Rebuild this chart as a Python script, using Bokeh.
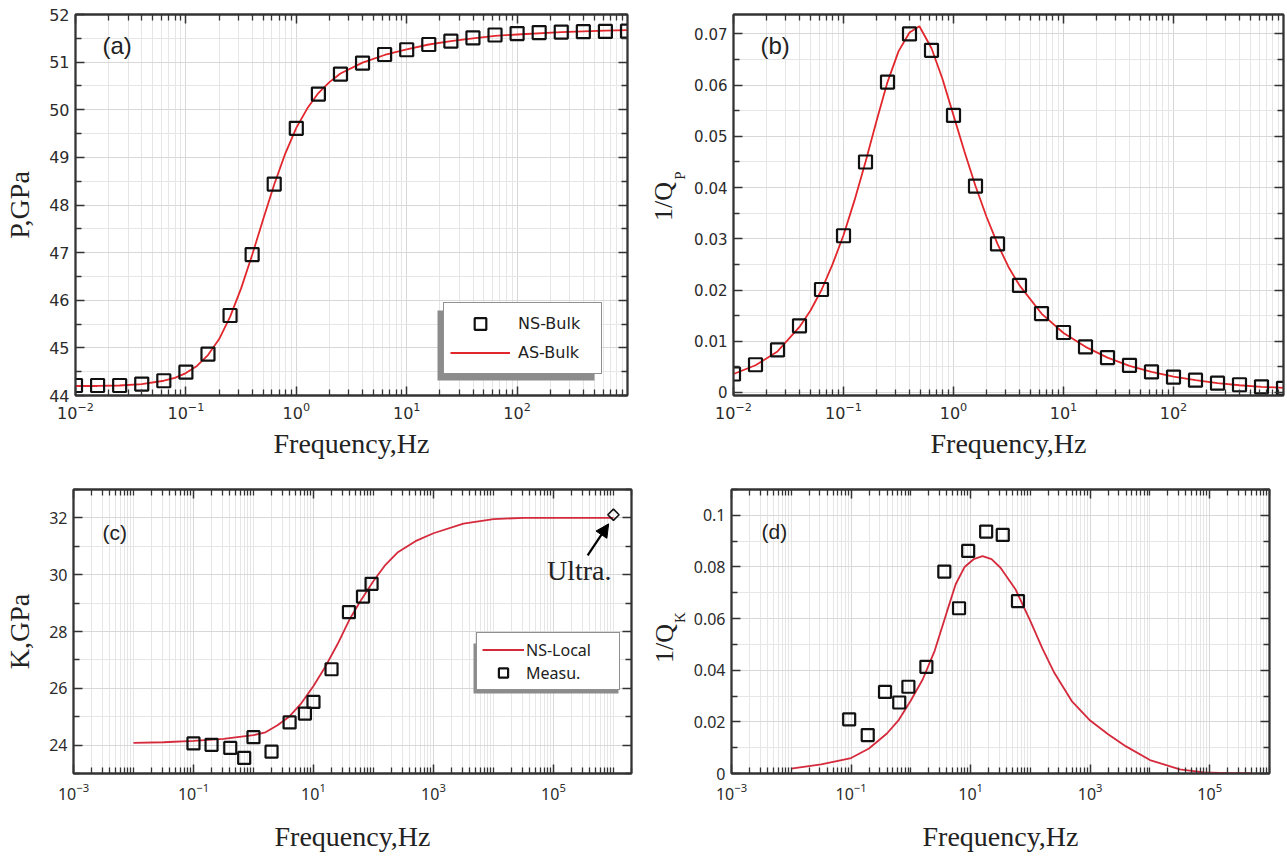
import numpy as np
from bokeh.plotting import figure
from bokeh.models import (LogAxis, LinearAxis, FixedTicker, Range1d, Label,
                          Legend, LegendItem, BoxAnnotation, Arrow, NormalHead,
                          CustomJSTickFormatter)
from bokeh.layouts import column, row
from bokeh.embed import file_html
from bokeh.resources import INLINE

# ---------------- data ----------------
# (a)/(b): log10 of frequency for the NS-Bulk squares
ns_bulk_logf = [-2.0, -1.8, -1.6, -1.4, -1.2, -1.0, -0.8, -0.6, -0.4, -0.2,
                0.0, 0.2, 0.4, 0.6, 0.8, 1.0, 1.2, 1.4, 1.6, 1.8,
                2.0, 2.2, 2.4, 2.6, 2.8, 3.0]
ns_bulk_P = [44.21, 44.21, 44.21, 44.24, 44.31, 44.49, 44.87, 45.68, 46.96, 48.44,
             49.61, 50.33, 50.75, 50.98, 51.16, 51.26, 51.37, 51.44, 51.51, 51.57,
             51.60, 51.62, 51.63, 51.64, 51.645, 51.65]
ns_bulk_invQ = [0.0036, 0.0054, 0.0083, 0.0130, 0.0201, 0.0306, 0.0450, 0.0606, 0.0700, 0.0668,
                0.0541, 0.0403, 0.0290, 0.0209, 0.0154, 0.0117, 0.0089, 0.0068, 0.0053, 0.0040,
                0.0030, 0.0024, 0.0018, 0.0015, 0.0011, 0.0008]

as_bulk_P_logf = [-2.0, -1.8, -1.6, -1.4, -1.2, -1.1, -1.0, -0.9, -0.8, -0.7, -0.6, -0.5,
                  -0.4, -0.3, -0.2, -0.1, 0.0, 0.1, 0.2, 0.3, 0.4, 0.6, 0.8, 1.0,
                  1.2, 1.4, 1.6, 1.8, 2.0, 2.4, 2.8, 3.0]
as_bulk_P = [44.20, 44.20, 44.21, 44.24, 44.31, 44.37, 44.47, 44.62, 44.85, 45.18, 45.65, 46.25,
             46.95, 47.70, 48.43, 49.08, 49.62, 50.03, 50.35, 50.58, 50.76, 50.99, 51.15, 51.27,
             51.37, 51.44, 51.50, 51.55, 51.58, 51.63, 51.66, 51.67]

as_bulk_invQ_logf = [-2.0, -1.8, -1.6, -1.4, -1.3, -1.2, -1.1, -1.0, -0.9, -0.8, -0.7, -0.6,
                     -0.5, -0.4, -0.31, -0.2, -0.1, 0.0, 0.1, 0.2, 0.3, 0.4, 0.5, 0.6,
                     0.8, 1.0, 1.2, 1.4, 1.6, 1.8, 2.0, 2.2, 2.4, 2.6, 2.8, 3.0]
as_bulk_invQ = [0.0036, 0.0053, 0.0080, 0.0128, 0.0160, 0.0200, 0.0250, 0.0307, 0.0375, 0.0450, 0.0530, 0.0606,
                0.0666, 0.0703, 0.0715, 0.0672, 0.0612, 0.0541, 0.0470, 0.0403, 0.0343, 0.0290, 0.0245, 0.0209,
                0.0154, 0.0116, 0.0089, 0.0068, 0.0052, 0.0040, 0.0031, 0.0024, 0.0018, 0.0014, 0.0011, 0.0009]

# (c): measured bulk modulus and NS-Local model
measu_K_f = [0.1, 0.2, 0.41, 0.7, 1.0, 2.0, 4.0, 7.2, 10.0, 20.0, 39.0, 67.0, 93.0]
measu_K = [24.06, 24.01, 23.90, 23.55, 24.28, 23.77, 24.80, 25.11, 25.52, 26.67, 28.68, 29.23, 29.68]
ultra_f = [1.0e6]
ultra_K = [32.11]
ns_local_K_logf = [-2.0, -1.5, -1.0, -0.5, 0.0, 0.2, 0.4, 0.6, 0.8, 1.0, 1.2, 1.4, 1.6, 1.8,
                   2.0, 2.2, 2.4, 2.7, 3.0, 3.5, 4.0, 4.5, 5.0, 6.0]
ns_local_K = [24.08, 24.10, 24.15, 24.22, 24.35, 24.45, 24.70, 25.01, 25.48, 26.08, 26.77, 27.55, 28.42, 29.13,
              29.78, 30.35, 30.78, 31.18, 31.46, 31.80, 31.96, 32.0, 32.0, 32.0]

# (d): measured 1/Q_K and NS-Local model
measu_Q_f = [0.093, 0.19, 0.37, 0.64, 0.91, 1.82, 3.63, 6.4, 9.1, 18.2, 34.5, 62.0]
measu_Q = [0.0210, 0.0149, 0.0316, 0.0275, 0.0336, 0.0413, 0.0782, 0.0640, 0.0862, 0.0937, 0.0924, 0.0668]
ns_local_Q_logf = [-2.0, -1.5, -1.0, -0.7, -0.4, -0.2, 0.0, 0.2, 0.4, 0.6, 0.75, 0.9, 1.05, 1.2,
                   1.35, 1.5, 1.75, 2.0, 2.2, 2.4, 2.7, 3.0, 3.3, 3.6, 4.0, 4.5, 4.9, 5.3, 5.7]
ns_local_Q = [0.0019, 0.0035, 0.0060, 0.0097, 0.0155, 0.0208, 0.0283, 0.0365, 0.0476, 0.0624, 0.0733, 0.0800,
              0.0830, 0.0842, 0.0830, 0.0797, 0.0714, 0.0590, 0.0485, 0.0390, 0.0278, 0.0205, 0.0152,
              0.0105, 0.0052, 0.0016, 0.0004, 0.0001, 0.0001]

# tick definitions
ab_major = [1e-2, 1e-1, 1e0, 1e1, 1e2]
ab_minor = [m * 10.0 ** e for e in range(-2, 3) for m in range(2, 10)]
cd_major = [1e-3, 1e-1, 1e1, 1e3, 1e5]
cd_minor = [m * 10.0 ** e for e in range(-3, 7) for m in range(1, 10)
            if not (m == 1 and e in (-3, -1, 1, 3, 5))]
a_major = [44, 45, 46, 47, 48, 49, 50, 51, 52]
a_minor = [44.5, 45.5, 46.5, 47.5, 48.5, 49.5, 50.5, 51.5]
b_major = [0, 0.01, 0.02, 0.03, 0.04, 0.05, 0.06, 0.07]
b_minor = [0.005, 0.015, 0.025, 0.035, 0.045, 0.055, 0.065]
c_major = [24, 26, 28, 30, 32]
c_minor = [23, 25, 27, 29, 31, 33]
d_major = [0, 0.02, 0.04, 0.06, 0.08, 0.1]
d_minor = [0.01, 0.03, 0.05, 0.07, 0.09, 0.11]

RED_AB = "#e2272c"
RED_CD = "#d52a3c"
INK = "#333333"
SERIF = "Liberation Serif"


def build(width, height, xr, yr, borders, xmaj, xmin, ymaj, ymin, tick_font):
    p = figure(width=width, height=height, x_axis_type="log",
               x_range=Range1d(*xr), y_range=Range1d(*yr),
               output_backend="svg", toolbar_location=None,
               min_border_left=borders[0], min_border_right=borders[1],
               min_border_top=borders[2], min_border_bottom=borders[3],
               background_fill_color="white", border_fill_color="white",
               outline_line_color=INK, outline_line_width=1.8)
    xt = FixedTicker(ticks=xmaj, minor_ticks=xmin)
    yt = FixedTicker(ticks=ymaj, minor_ticks=ymin)
    bottom = p.below[0]
    left = p.left[0]
    bottom.ticker = xt
    left.ticker = yt
    p.xgrid.ticker = xt
    p.ygrid.ticker = yt
    for g in (p.xgrid, p.ygrid):
        g.grid_line_color = "#d8d8d8"
        g.grid_line_width = 1
        g.minor_grid_line_color = "#e6e6e6"
        g.minor_grid_line_width = 1
    blank = CustomJSTickFormatter(code="return ''")
    top = LogAxis(ticker=xt, formatter=blank)
    right = LinearAxis(ticker=yt, formatter=blank)
    p.add_layout(top, "above")
    p.add_layout(right, "right")
    for ax in (bottom, left, top, right):
        ax.major_tick_in = 9
        ax.major_tick_out = 0
        ax.minor_tick_in = 6
        ax.minor_tick_out = 0
        ax.major_tick_line_color = INK
        ax.minor_tick_line_color = INK
        ax.major_tick_line_width = 1.5
        ax.minor_tick_line_width = 1.3
        ax.axis_line_color = INK
        ax.axis_line_width = 1.8
        ax.major_label_text_font = tick_font
        ax.major_label_text_font_size = "16px"
        ax.major_label_text_color = "#2b2b2b"
        ax.major_label_standoff = 6
    for ax in (top, right):
        ax.major_label_text_font_size = "1px"
        ax.major_label_standoff = 0
    bottom.axis_label = "Frequency,Hz"
    bottom.axis_label_text_font = SERIF
    bottom.axis_label_text_font_size = "28px"
    bottom.axis_label_text_font_style = "normal"
    bottom.axis_label_text_color = "#222"
    left.axis_label_text_font = SERIF
    left.axis_label_text_font_size = "28px"
    left.axis_label_text_font_style = "normal"
    left.axis_label_text_color = "#222"
    return p, bottom, left


def label_strip(width, height, sub, q_xy, sub_xy):
    """A narrow blank figure that carries the rotated '1/Q' + subscript y-label.
    Its frame is aligned with the neighbouring plot frame by the row layout."""
    s = figure(width=width, height=height, x_range=Range1d(0, 1), y_range=Range1d(0, 1),
               output_backend="svg", toolbar_location=None,
               x_axis_location=None, y_axis_location=None, min_border=0,
               outline_line_color=None, background_fill_color="white",
               border_fill_color="white")
    s.grid.visible = False
    s.add_layout(Label(x=q_xy[0], y=q_xy[1], x_units="screen", y_units="screen", text="1/Q",
                       angle=np.pi / 2, text_align="center", text_baseline="middle",
                       text_font=SERIF, text_font_size="26px", text_color="#222"))
    s.add_layout(Label(x=sub_xy[0], y=sub_xy[1], x_units="screen", y_units="screen", text=sub,
                       angle=np.pi / 2, text_align="center", text_baseline="middle",
                       text_font=SERIF, text_font_size="15px", text_color="#222"))
    return s


def panel_tag(p, text, frame_h, dx, dy, size):
    p.add_layout(Label(x=dx, y=frame_h - dy, x_units="screen", y_units="screen",
                       text=text, text_baseline="top", text_font="Liberation Sans",
                       text_font_size=size, text_color="#222"))


def shadow(p, l, r, b, t):
    p.add_layout(BoxAnnotation(left=l, right=r, bottom=b, top=t,
                               left_units="screen", right_units="screen",
                               bottom_units="screen", top_units="screen",
                               fill_color="#8c8c8c", fill_alpha=1, line_color=None))


# ---------------- (a) ----------------
pa, pa_b, pa_l = build(640, 462, (1e-2, 1e3), (44, 52), (75, 13, 14, 67),
                       ab_major, ab_minor, a_major, a_minor, "DejaVu Sans")
pa_l.axis_label = "P,GPa"
pa_l.axis_label_standoff = 11
pa_b.axis_label_standoff = 6
ln_a = pa.line([10 ** v for v in as_bulk_P_logf], as_bulk_P, line_color=RED_AB, line_width=1.8)
sq_a = pa.scatter([10 ** v for v in ns_bulk_logf], ns_bulk_P, marker="square", size=13,
                  fill_color=None, line_color="#111", line_width=2.2)
shadow(pa, 362, 519, 15, 85)
leg_a = Legend(items=[LegendItem(label="NS-Bulk", renderers=[sq_a]),
                      LegendItem(label="AS-Bulk", renderers=[ln_a])],
               location=(368, 21), orientation="vertical", padding=6, spacing=0,
               glyph_width=60, glyph_height=29, label_height=29, label_width=77,
               label_standoff=8, margin=0, border_line_color="#222", border_line_width=1.6,
               background_fill_color="white", background_fill_alpha=1,
               label_text_font="DejaVu Sans", label_text_font_size="16px", label_text_color="#222")
pa.add_layout(leg_a)
panel_tag(pa, "(a)", 381, 27, 17, "24px")

# ---------------- (b) ----------------
lab_b = label_strip(50, 462, "P", (23, 194), (39, 220))
pb, pb_b, pb_l = build(597, 462, (1e-2, 1e3), (-0.0006, 0.0738), (43, 4, 14, 67),
                       ab_major, ab_minor, b_major, b_minor, "DejaVu Sans")
pb_l.major_label_text_font_size = "15px"
pb_b.axis_label_standoff = 6
pb.line([10 ** v for v in as_bulk_invQ_logf], as_bulk_invQ, line_color=RED_AB, line_width=1.8)
pb.scatter([10 ** v for v in ns_bulk_logf], ns_bulk_invQ, marker="square", size=13,
           fill_color=None, line_color="#111", line_width=2.2)
panel_tag(pb, "(b)", 381, 27, 17, "24px")

# ---------------- (c) ----------------
pc, pc_b, pc_l = build(640, 394, (1e-3, 2e6), (23, 33), (73, 9, 27, 83),
                       cd_major, cd_minor, c_major, c_minor, "Noto Sans")
pc_l.axis_label = "K,GPa"
pc_l.axis_label_standoff = 11
pc_b.major_label_standoff = 9
pc_b.axis_label_standoff = 18
ln_c = pc.line([10 ** v for v in ns_local_K_logf], ns_local_K, line_color=RED_CD, line_width=1.8)
sq_c = pc.scatter(measu_K_f, measu_K, marker="square", size=12,
                  fill_color=None, line_color="#111", line_width=2.2)
pc.scatter(ultra_f, ultra_K, marker="square", angle=np.pi / 4, size=8,
           fill_color=None, line_color="#111", line_width=1.6)
pc.add_layout(Arrow(end=NormalHead(size=13, fill_color="black", line_color="black"),
                    x_start=10 ** 5.57, y_start=30.68, x_end=10 ** 5.92, y_end=31.79,
                    line_width=2.2, line_color="black"))
pc.add_layout(Label(x=10 ** 5.43, y=30.15, text="Ultra.", text_align="center",
                    text_baseline="alphabetic", text_font=SERIF, text_font_size="28px",
                    text_color="#222"))
shadow(pc, 400, 545, 80, 130)
leg_c = Legend(items=[LegendItem(label="NS-Local", renderers=[ln_c]),
                      LegendItem(label="Measu.", renderers=[sq_c])],
               location=(403, 83), orientation="vertical", padding=5, spacing=0,
               glyph_width=42, glyph_height=23, label_height=23, label_width=88,
               label_standoff=2, margin=0, border_line_color="#222", border_line_width=1.5,
               background_fill_color="white", background_fill_alpha=1,
               label_text_font="Noto Sans", label_text_font_size="16px", label_text_color="#222")
pc.add_layout(leg_c)
panel_tag(pc, "(c)", 284, 29, 31, "21px")

# ---------------- (d) ----------------
lab_d = label_strip(50, 394, "K", (24, 130), (39, 156))
pd_, pd_b, pd_l = build(597, 394, (1e-3, 1e6), (0, 0.11), (40, 18, 27, 83),
                        cd_major, cd_minor, d_major, d_minor, "Noto Sans")
pd_b.major_label_standoff = 9
pd_b.axis_label_standoff = 18
pd_.line([10 ** v for v in ns_local_Q_logf], ns_local_Q, line_color=RED_CD, line_width=1.8)
pd_.scatter(measu_Q_f, measu_Q, marker="square", size=12,
            fill_color=None, line_color="#111", line_width=2.2)
panel_tag(pd_, "(d)", 284, 30, 30, "21px")

layout = column(row(pa, lab_b, pb), row(pc, lab_d, pd_))
open("out.html", "w").write(file_html(layout, INLINE))
